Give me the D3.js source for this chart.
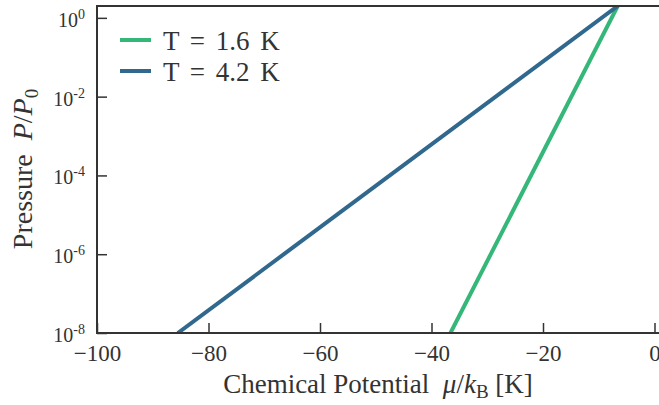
<!DOCTYPE html>
<html>
<head>
<meta charset="utf-8">
<script src="https://cdn.jsdelivr.net/npm/d3@7"></script>
<style>
  html, body { margin: 0; padding: 0; background: #fff; }
  svg { display: block; }
  text { font-family: "Liberation Serif", "Times New Roman", serif; fill: #333; }
</style>
</head>
<body>
<svg id="chart" width="659" height="405"></svg>
<script>
// Series: straight lines on a log axis, given by their end points (mu in K, P/P0)
const seriesNames = ["T = 1.6 K", "T = 4.2 K"];
const seriesColors = ["#35b779", "#31688e"];
const muLow = [-36.6, -85.5];
const muHigh = [-6.6, -6.6];
const pLow = [1e-8, 1e-8];
const pHigh = [2, 2];

const xTicks = [-100, -80, -60, -40, -20, 0];
const yTickExponents = [0, -2, -4, -6, -8];

const svg = d3.select("#chart");
const W = 659, H = 405;
const plotLeft = 97, plotRight = 654.5, plotTop = 6, plotBottom = 333;

const x = d3.scaleLinear().domain([-100, 0]).range([plotLeft, plotRight]);
const y = d3.scaleLog().domain([1e-8, 2]).range([plotBottom, plotTop]);

const ink = "#333";

// Data lines, clipped to the plot area
svg.append("clipPath").attr("id", "plotClip")
  .append("rect").attr("x", plotLeft).attr("y", plotTop)
  .attr("width", W - plotLeft).attr("height", plotBottom - plotTop);

const line = d3.line().x(d => x(d[0])).y(d => y(d[1]));
const series = seriesNames.map((name, i) => ({
  name, color: seriesColors[i],
  points: [[muLow[i], pLow[i]], [muHigh[i], pHigh[i]]]
}));

svg.append("g").attr("clip-path", "url(#plotClip)")
  .selectAll("path").data(series).join("path")
  .attr("d", d => line(d.points))
  .attr("fill", "none")
  .attr("stroke", d => d.color)
  .attr("stroke-width", 4);

// X axis: inward ticks
const xAxis = d3.axisBottom(x).tickValues(xTicks).tickSizeInner(-10).tickSizeOuter(0)
  .tickFormat(d => d === 0 ? "0" : "\u2212" + Math.abs(d));
const gx = svg.append("g").attr("transform", `translate(0,${plotBottom})`).call(xAxis);
gx.select(".domain").remove();
gx.selectAll(".tick line").attr("stroke", ink).attr("stroke-width", 1.5);
gx.selectAll(".tick text").attr("fill", ink).attr("font-size", 23)
  .attr("font-family", "Liberation Serif, serif").attr("y", 12).attr("dy", "0.71em");

// Y axis: inward ticks, power-of-ten labels
const yAxis = d3.axisLeft(y).tickValues(yTickExponents.map(e => Math.pow(10, e)))
  .tickSizeInner(-10).tickSizeOuter(0).tickFormat("");
const gy = svg.append("g").attr("transform", `translate(${plotLeft},0)`).call(yAxis);
gy.select(".domain").remove();
gy.selectAll(".tick line").attr("stroke", ink).attr("stroke-width", 1.5);

const yLab = svg.append("g").selectAll("text").data(yTickExponents).join("text")
  .attr("x", 85).attr("y", d => y(Math.pow(10, d)) + 9)
  .attr("text-anchor", "end").attr("font-size", 20);
yLab.append("tspan").text("10");
yLab.append("tspan").attr("dy", -8).attr("font-size", 14).text(d => d === 0 ? "0" : "-" + Math.abs(d));

// Spines: left, top, bottom
svg.append("path")
  .attr("d", `M${W},${plotTop}H${plotLeft}V${plotBottom}H${W}`)
  .attr("fill", "none").attr("stroke", ink).attr("stroke-width", 2);

// Axis titles
const xt = svg.append("text").attr("x", 378).attr("y", 393)
  .attr("text-anchor", "middle").attr("font-size", 27);
xt.append("tspan").text("Chemical Potential\u2002");
xt.append("tspan").attr("font-style", "italic").text("\u03bc");
xt.append("tspan").text("/");
xt.append("tspan").attr("font-style", "italic").text("k");
xt.append("tspan").attr("font-size", 19).attr("dy", 5).text("B");
xt.append("tspan").attr("dy", -5).text(" [K]");

const yt = svg.append("text")
  .attr("transform", `translate(32,169) rotate(-90)`)
  .attr("text-anchor", "middle").attr("font-size", 28);
yt.append("tspan").text("Pressure\u2002");
yt.append("tspan").attr("font-style", "italic").text("P");
yt.append("tspan").text("/");
yt.append("tspan").attr("font-style", "italic").text("P");
yt.append("tspan").attr("font-size", 19).attr("dy", 6).text("0");

// Legend
const leg = svg.append("g").selectAll("g").data(series).join("g")
  .attr("transform", (d, i) => `translate(0,${40 + i * 31})`);
leg.append("line").attr("x1", 120).attr("x2", 151)
  .attr("stroke", d => d.color).attr("stroke-width", 4);
leg.append("text").attr("x", 163).attr("y", 10).attr("font-size", 27)
  .attr("word-spacing", 4).text(d => d.name);
</script>
</body>
</html>
